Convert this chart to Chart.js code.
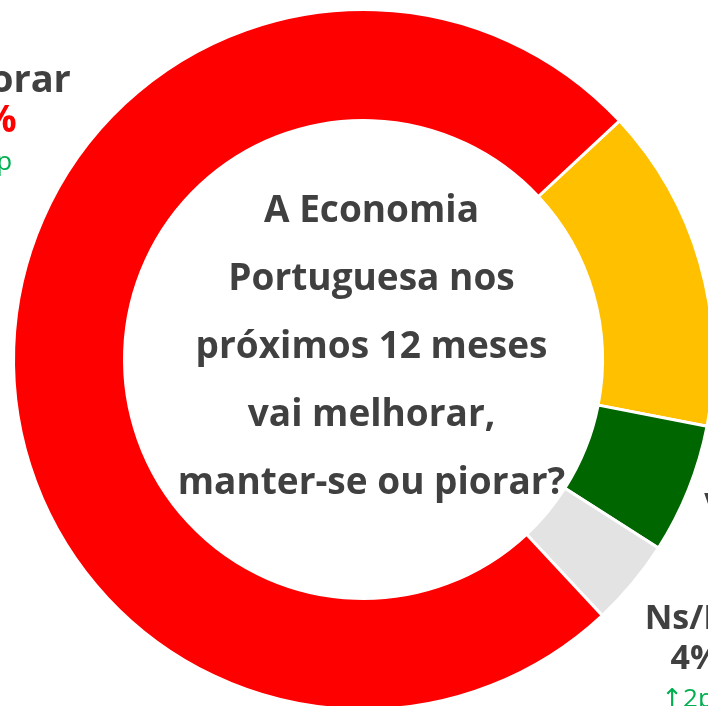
<!DOCTYPE html>
<html>
<head>
<meta charset="utf-8">
<script src="https://cdn.jsdelivr.net/npm/chart.js@4"></script>
<style>
  html, body { margin: 0; padding: 0; background: #fff; overflow: hidden; width: 708px; height: 706px; }
  #wrap { position: absolute; left: -150px; top: -150px; width: 1100px; height: 1100px; }
</style>
</head>
<body>
<div id="wrap"><canvas id="econChart" width="1100" height="1100"></canvas></div>
<script>
// data (clockwise from the red/yellow boundary)
const categories = ['Vai manter-se', 'Vai melhorar', 'Ns/Nr', 'Vai piorar'];
const values = [15, 6, 4, 75];
const changes = ['\u21933pp', '\u21934pp', '\u21912pp', '\u21915pp'];
const colors = ['#FFC000', '#006600', '#E3E3E3', '#FF0000'];
const valueColors = ['#FFC000', '#006600', '#404040', '#FF0000'];
const centerLines = ['A Economia', 'Portuguesa nos', 'próximos 12 meses', 'vai melhorar,', 'manter-se ou piorar?'];

// label anchors relative to the doughnut centre (centre x, first baseline y)
const labelOffsets = [[480, -170], [451, 157.5], [332, 269.5], [-385.5, -267.5]];
const labelSizes = [34, 34, 34, 38];

const FONT = '"Open Sans", "DejaVu Sans", sans-serif';

const labelPlugin = {
    id: 'labelPlugin',
    afterDraw(chart) {
        const ctx = chart.ctx;
        const arc = chart.getDatasetMeta(0).data[0];
        const cx = arc.x, cy = arc.y;
        ctx.save();
        ctx.textAlign = 'center';
        ctx.textBaseline = 'alphabetic';
        // centre question
        ctx.fillStyle = '#404040';
        ctx.font = 'bold 37px ' + FONT;
        for (let i = 0; i < centerLines.length; i++) {
            ctx.fillText(centerLines[i], cx + 8, cy - 137.5 + i * 68);
        }
        // outside labels
        for (let i = 0; i < categories.length; i++) {
            const x = cx + labelOffsets[i][0];
            const y = cy + labelOffsets[i][1];
            const s = labelSizes[i];
            ctx.font = 'bold ' + s + 'px ' + FONT;
            ctx.fillStyle = '#404040';
            ctx.fillText(categories[i], x, y);
            ctx.fillStyle = valueColors[i];
            ctx.fillText(values[i] + '%', x, y + 40);
            ctx.font = '26px ' + FONT;
            ctx.fillStyle = '#00B050';
            ctx.fillText(changes[i], x, y + 78);
        }
        ctx.restore();
    }
};

const ctx = document.getElementById('econChart').getContext('2d');
const econChart = new Chart(ctx, {
    type: 'doughnut',
    data: {
        labels: categories,
        datasets: [{
            data: values,
            backgroundColor: colors,
            borderColor: '#ffffff',
            borderWidth: 3
        }]
    },
    options: {
        responsive: false,
        animation: false,
        rotation: 47,
        cutout: '68.29%',
        layout: { padding: { left: 162, top: 158, right: 235, bottom: 239 } },
        plugins: {
            legend: { display: false },
            tooltip: { enabled: false }
        }
    },
    plugins: [labelPlugin]
});
</script>
</body>
</html>
